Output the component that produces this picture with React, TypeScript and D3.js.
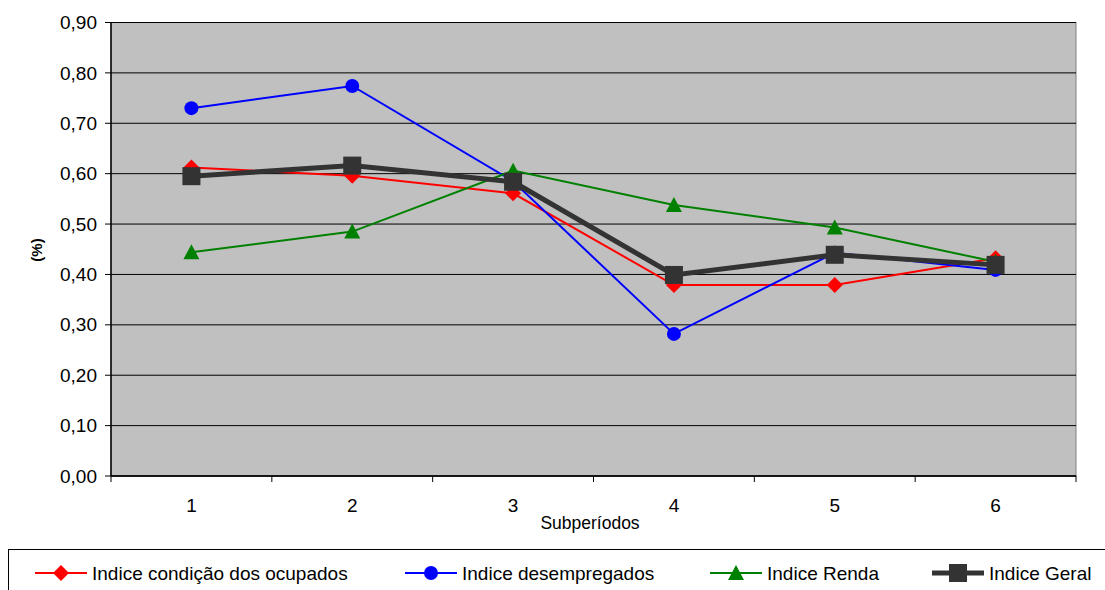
import React from "react";
import * as d3 from "d3";

const categories = ["1", "2", "3", "4", "5", "6"];
const ocupados = [0.612, 0.596, 0.561, 0.379, 0.379, 0.432];
const desempregados = [0.730, 0.774, 0.585, 0.282, 0.443, 0.409];
const renda = [0.444, 0.485, 0.606, 0.538, 0.493, 0.425];
const geral = [0.595, 0.616, 0.584, 0.399, 0.439, 0.419];
const yTicks = [0, 0.1, 0.2, 0.3, 0.4, 0.5, 0.6, 0.7, 0.8, 0.9];

const W = 1105, H = 590;
const L = 111, R = 1076, T = 22.5, B = 476;

const series = [
  { name: "Indice condição dos ocupados", values: ocupados, color: "#ff0000", width: 2, marker: "diamond", lx: 35 },
  { name: "Indice desempregados", values: desempregados, color: "#0000ff", width: 2, marker: "circle", lx: 405 },
  { name: "Indice Renda", values: renda, color: "#008000", width: 2, marker: "triangle", lx: 710 },
  { name: "Indice Geral", values: geral, color: "#333333", width: 5, marker: "square", lx: 932 },
];

function Marker({ type, x, y, color }: { type: string; x: number; y: number; color: string }) {
  if (type === "diamond") return <path d={`M${x},${y - 8}L${x + 8},${y}L${x},${y + 8}L${x - 8},${y}Z`} fill={color} />;
  if (type === "circle") return <circle cx={x} cy={y} r={7} fill={color} />;
  if (type === "triangle") return <path d={`M${x},${y - 8}L${x + 8},${y + 7}L${x - 8},${y + 7}Z`} fill={color} />;
  return <rect x={x - 9} y={y - 9} width={18} height={18} fill={color} />;
}

export default function App() {
  const x = d3.scaleBand().domain(categories).range([L, R]);
  const y = d3.scaleLinear().domain([0, 0.9]).range([B, T]);
  const cx = (c: string) => (x(c) as number) + x.bandwidth() / 2;
  const line = d3.line<number>().x((_, i) => cx(categories[i])).y((v) => y(v));
  const fmt = (v: number) => v.toFixed(2).replace(".", ",");
  const bounds = d3.range(categories.length + 1).map((i) => L + i * x.bandwidth());

  return (
    <svg width={W} height={H} style={{ position: "absolute", left: 0, top: 0, fontFamily: "'Liberation Sans', Arial, sans-serif" }}>
      <rect x={0} y={0} width={W} height={H} fill="#fff" />
      <rect x={L} y={T} width={R - L} height={B - T} fill="#c0c0c0" stroke="#808080" strokeWidth={1} />
      {yTicks.map((t) => (
        <g key={t}>
          <line x1={L} x2={R} y1={y(t)} y2={y(t)} stroke="#000" strokeWidth={1} />
          <line x1={L - 6} x2={L} y1={y(t)} y2={y(t)} stroke="#000" strokeWidth={1} />
          <text x={L - 14} y={y(t)} dy="0.35em" textAnchor="end" fontSize={19} fill="#000">{fmt(t)}</text>
        </g>
      ))}
      <line x1={L} x2={L} y1={T} y2={B} stroke="#000" strokeWidth={1.5} />
      <line x1={L} x2={R} y1={B} y2={B} stroke="#000" strokeWidth={1.5} />
      {bounds.map((b, i) => (
        <line key={i} x1={b} x2={b} y1={B} y2={B + 6} stroke="#000" strokeWidth={1} />
      ))}
      {categories.map((c) => (
        <text key={c} x={cx(c)} y={505} dy="0.35em" textAnchor="middle" fontSize={19} fill="#000">{c}</text>
      ))}
      <text x={590} y={523} dy="0.35em" textAnchor="middle" fontSize={17.5} fill="#000">Subperíodos</text>
      <text transform={`translate(37,250) rotate(-90)`} dy="0.35em" textAnchor="middle" fontSize={15} fontWeight="bold" fill="#000">(%)</text>
      {series.map((s) => (
        <g key={s.name}>
          <path d={line(s.values) as string} fill="none" stroke={s.color} strokeWidth={s.width} />
          {s.values.map((v, i) => (
            <Marker key={i} type={s.marker} x={cx(categories[i])} y={y(v)} color={s.color} />
          ))}
        </g>
      ))}
      <rect x={8.5} y={549.5} width={1110} height={50} fill="#fff" stroke="#000" strokeWidth={1} />
      {series.map((s) => (
        <g key={s.name}>
          <line x1={s.lx} x2={s.lx + 52} y1={573} y2={573} stroke={s.color} strokeWidth={s.width} />
          <Marker type={s.marker} x={s.lx + 26} y={573} color={s.color} />
          <text x={s.lx + 57} y={573} dy="0.35em" fontSize={19} fill="#000">{s.name}</text>
        </g>
      ))}
    </svg>
  );
}
